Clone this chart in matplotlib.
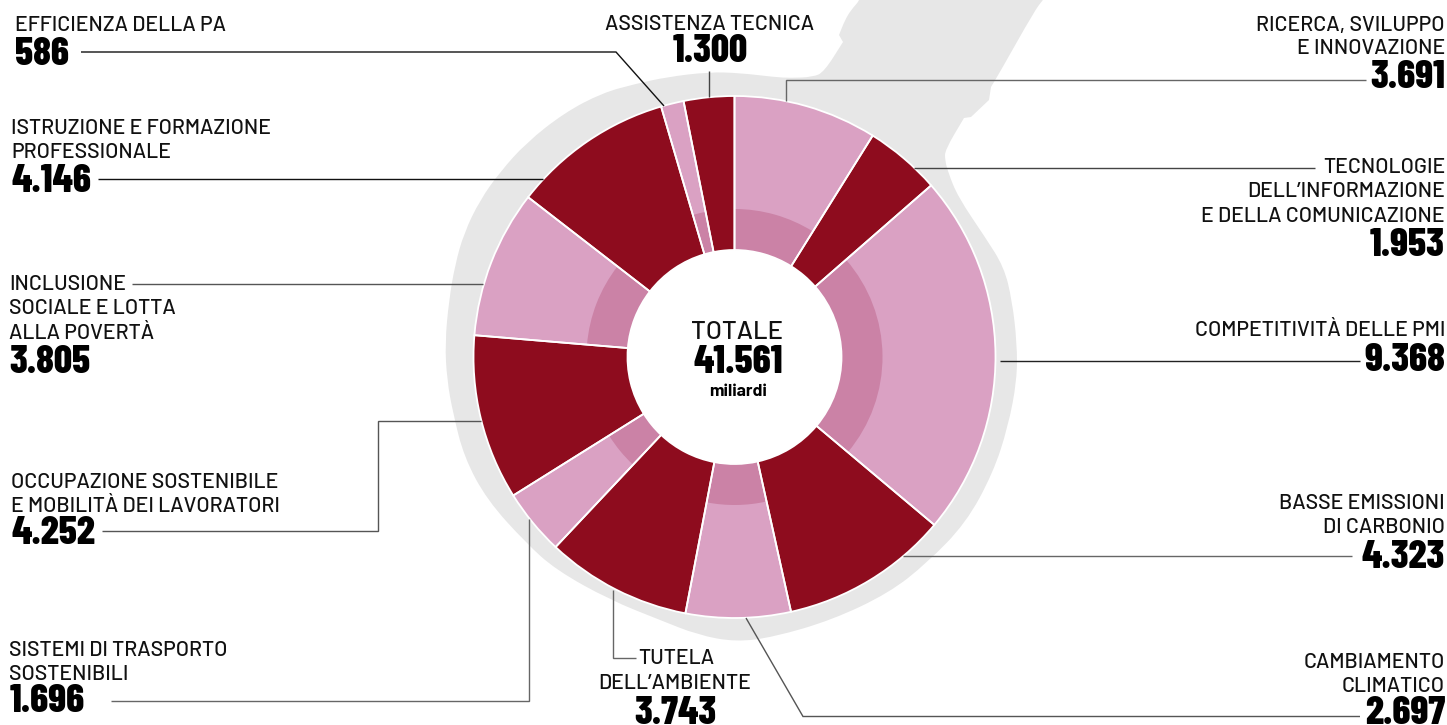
# filename: fondi_donut.py

import matplotlib.pyplot as plt
from matplotlib.patches import Circle, PathPatch
from matplotlib.path import Path

WIDTH, HEIGHT = 1447, 725

# Billions per thematic objective, clockwise from the top
objectives = [
    "RICERCA", "TECNOLOGIE", "COMPETITIVITA", "BASSE EMISSIONI", "CAMBIAMENTO",
    "TUTELA", "TRASPORTO", "OCCUPAZIONE", "INCLUSIONE", "ISTRUZIONE", "PA", "ASSISTENZA",
]
values = [3691, 1953, 9368, 4323, 2697, 3743, 1696, 4252, 3805, 4146, 586, 1300]
total = 41561

DARK = "#8e0c1e"
PINK = "#daa1c3"
PINK_INNER = "#cb82a6"
GREY = "#e7e7e7"
LABEL_FONT = ["Barlow", "Roboto", "Liberation Sans"]
VALUE_FONT = ["Barlow Condensed", "Roboto Condensed", "Liberation Sans"]

outer_colors = [PINK if i % 2 == 0 else DARK for i in range(len(values))]
inner_colors = [PINK_INNER if i % 2 == 0 else "none" for i in range(len(values))]

# Outline of the peninsula behind the ring; repeated points keep a corner sharp
italy_outline = [
    (862, -6), (860, 0), (851, 10), (845, 20), (839, 35), (839, 35), (843, 42), (843, 42),
    (824, 72), (813, 77), (790, 78),
    (774, 77), (740, 73), (709, 72), (667, 77), (635, 84), (602, 93), (564, 113), (526, 143),
    (500, 172), (480, 200), (464, 233), (455, 265), (449, 300), (445, 343), (447, 380),
    (453, 413), (464, 457), (487, 500), (526, 543), (556, 570), (610, 600), (660, 620),
    (698, 635), (736, 642), (774, 637), (832, 620), (889, 593), (927, 563), (966, 523),
    (993, 473), (1008, 427), (1017, 380), (1017, 343), (1012, 300), (1004, 267), (985, 237),
    (958, 197), (948, 172), (945, 160), (945, 150), (964, 118), (964, 118), (971, 117), (971, 117),
    (989, 100), (989, 100), (991, 87), (991, 87),
    (1000, 72), (1035, 10), (1043, 0), (1047, -6),
]

# Leader lines, each one a run of (x, y) points, with the grey of each run
leaders = [
    [(81, 52), (616, 52), (664, 106)],
    [(709, 71), (709, 97)],
    [(1366, 80), (786, 80), (786, 101)],
    [(1315, 168), (914, 168)],
    [(1360, 360.5), (1000, 360.5)],
    [(1352, 556), (903, 556)],
    [(1360, 716.5), (803, 716.5), (746, 618)],
    [(613, 590), (613, 658), (636, 658)],
    [(111, 700.5), (528.5, 700.5), (528.5, 519)],
    [(102, 530.5), (378, 530.5), (378, 420.5), (481, 420.5)],
    [(132, 283.5), (483, 283.5)],
    [(98, 179), (543, 179)],
]
leader_colors = ["#111111", "#444444", "#666666", "#444444", "#222222", "#666666",
                 "#555555", "#666666", "#666666", "#555555", "#555555", "#111111"]

# label text lines: (x, alignment, [(text, baseline)...], value index, value x, value baseline)
labels = [
    (15, "left", [("EFFICIENZA DELLA PA", 31)], 10, 15, 65),
    (11, "left", [("ISTRUZIONE E FORMAZIONE", 134), ("PROFESSIONALE", 158)], 9, 12, 192),
    (9, "left", [("INCLUSIONE", 290), ("SOCIALE E LOTTA", 314), ("ALLA POVERTÀ", 339)], 8, 9, 373),
    (11, "left", [("OCCUPAZIONE SOSTENIBILE", 488), ("E MOBILITÀ DEI LAVORATORI", 512)], 7, 12, 544),
    (9, "left", [("SISTEMI DI TRASPORTO", 656), ("SOSTENIBILI", 680)], 6, 10, 712),
    (710, "center", [("ASSISTENZA TECNICA", 30)], 11, 710, 62),
    (1445, "right", [("RICERCA, SVILUPPO", 31), ("E INNOVAZIONE", 54)], 0, 1445, 88),
    (1445, "right", [("TECNOLOGIE", 173), ("DELL’INFORMAZIONE", 197), ("E DELLA COMUNICAZIONE", 222)], 1, 1445, 256),
    (1445, "right", [("COMPETITIVITÀ DELLE PMI", 336)], 2, 1445, 371),
    (1445, "right", [("BASSE EMISSIONI", 509), ("DI CARBONIO", 533)], 3, 1445, 568),
    (1445, "right", [("CAMBIAMENTO", 668), ("CLIMATICO", 692)], 4, 1445, 724),
    (675, "center", [("DELL’AMBIENTE", 689)], 5, 675, 724),
]


def flip(y):
    return HEIGHT - y


def fmt(v):
    return f"{v:,}".replace(",", ".")


def smooth_path(points):
    # quadratic curve through the midpoints, so the outline has no hard corners
    pts = [(x, flip(y)) for x, y in points]
    verts = [pts[0]]
    codes = [Path.MOVETO]
    for i in range(1, len(pts) - 1):
        mid = ((pts[i][0] + pts[i + 1][0]) / 2, (pts[i][1] + pts[i + 1][1]) / 2)
        verts += [pts[i], mid]
        codes += [Path.CURVE3, Path.CURVE3]
    verts += [pts[-1], pts[0]]
    codes += [Path.LINETO, Path.CLOSEPOLY]
    return Path(verts, codes)


fig = plt.figure(figsize=(WIDTH / 100, HEIGHT / 100), dpi=100)
ax = fig.add_axes([0, 0, 1, 1])

ax.add_patch(PathPatch(smooth_path(italy_outline), facecolor=GREY, edgecolor="none", zorder=0))

center = (734.5, flip(357))
pie_args = dict(startangle=90, counterclock=False, center=center, frame=True)

# Hole of the ring stays white over the grey shape
ax.add_patch(Circle(center, 107, facecolor="white", edgecolor="none", zorder=1))

# Ring fills, darker inner band on the pink slices, then white separators on top
ax.pie(values, colors=outer_colors, radius=261,
       wedgeprops=dict(width=154, linewidth=0, edgecolor="none", zorder=2), **pie_args)
ax.pie(values, colors=inner_colors, radius=148,
       wedgeprops=dict(width=41, linewidth=0, edgecolor="none", zorder=3), **pie_args)
ax.pie(values, colors=["none"] * len(values), radius=261,
       wedgeprops=dict(width=154, linewidth=1.3, edgecolor="white", zorder=4), **pie_args)

ax.set_xlim(0, WIDTH)
ax.set_ylim(0, HEIGHT)
ax.axis("off")

for run, shade in zip(leaders, leader_colors):
    ax.plot([p[0] for p in run], [flip(p[1]) for p in run], color=shade, linewidth=1,
            solid_joinstyle="miter", solid_capstyle="butt", zorder=5)

LABEL_SIZE = 15.3
VALUE_SIZE = 28.8
label_style = dict(va="baseline", fontsize=LABEL_SIZE, family=LABEL_FONT, fontweight="medium",
                   color="#111111", zorder=6)
value_style = dict(va="baseline", fontsize=VALUE_SIZE, family=VALUE_FONT, fontweight="heavy",
                   color="black", zorder=6)

for x, align, lines, idx, value_x, value_y in labels:
    for text, base in lines:
        ax.text(x, flip(base), text, ha=align, **label_style)
    ax.text(value_x, flip(value_y), fmt(values[idx]), ha=align, **value_style)

# The first line of this label sits next to its leader line
ax.text(638, flip(664), "TUTELA", ha="left", **label_style)

ax.text(737, flip(339), "TOTALE", ha="center", va="baseline", fontsize=18.5, family=LABEL_FONT,
        fontweight="medium", color="#111111", zorder=6)
ax.text(738, flip(373), fmt(total), ha="center", **value_style)
ax.text(738, flip(396), "miliardi", ha="center", va="baseline", fontsize=12.5, family=LABEL_FONT,
        fontweight="bold", color="black", zorder=6)

plt.savefig("out.png", dpi=100)
